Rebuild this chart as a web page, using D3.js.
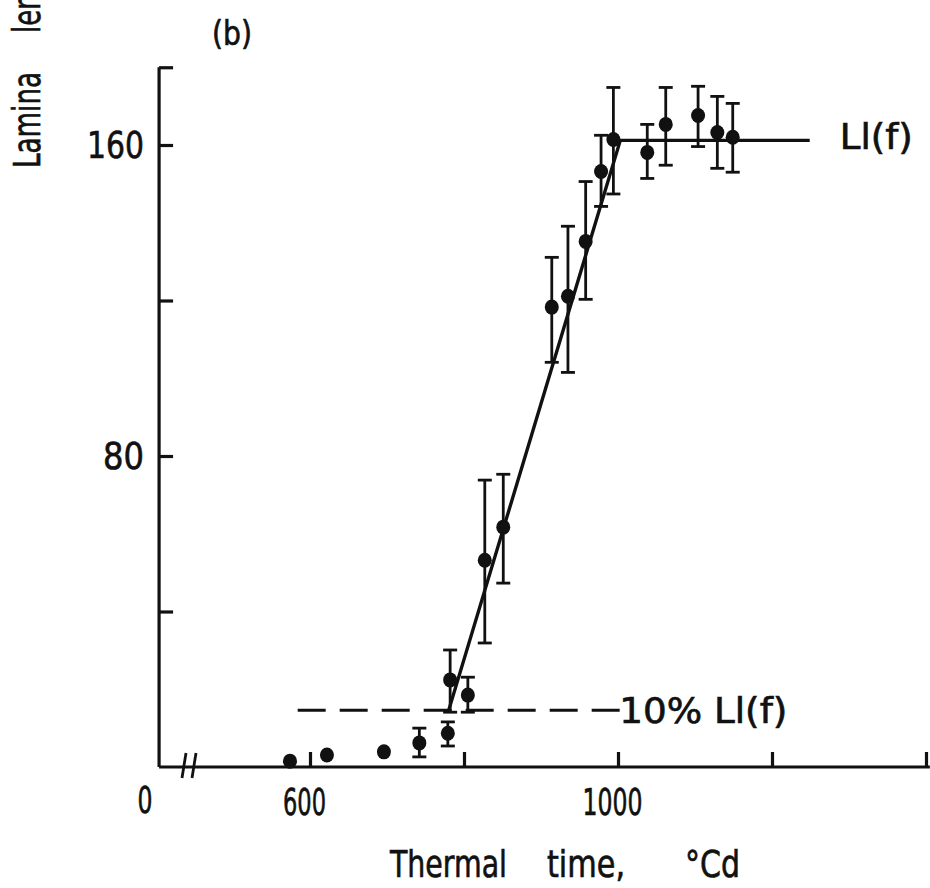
<!DOCTYPE html>
<html>
<head>
<meta charset="utf-8">
<script src="https://cdn.jsdelivr.net/npm/d3@7"></script>
<style>
  html, body { margin: 0; padding: 0; background: #fff; }
  svg { display: block; }
  text { font-family: "DejaVu Sans", "Liberation Sans", sans-serif; fill: #111; stroke: #111; stroke-width: 0.7px; }
</style>
</head>
<body>
<svg id="chart" width="930" height="888"></svg>
<script>
// ---- data ----
const thermalTime = [574, 622, 696, 742, 779, 782, 805, 827, 851, 914, 935, 958, 978, 994, 1038, 1062, 1104, 1129, 1149];
const laminaLength = [1.5, 3.1, 3.9, 6.2, 8.7, 22.4, 18.5, 53.2, 61.7, 118.3, 121.1, 135.2, 153.2, 161.4, 158.1, 165.3, 167.6, 163.2, 162.0];
const errUpper = [null, null, null, 10.0, 11.6, 30.1, 23.1, 73.8, 75.3, 131.1, 139.1, 150.6, 162.5, 174.8, 165.3, 174.8, 175.1, 172.5, 170.7];
const errLower = [null, null, null, 2.6, 5.4, 14.1, 14.1, 31.9, 47.3, 104.1, 101.5, 120.3, 144.2, 147.4, 151.4, 154.8, 159.6, 154.0, 153.0];

const fitX = [780, 1003, 1249];
const fitY = [14.5, 161.2, 161.2];
const tenPctX = [584, 1003];
const tenPctY = [14.6, 14.6];

const xTicks = [600, 800, 1000, 1200, 1400];
const xTickLabels = { 600: "600", 1000: "1000" };
const yTicks = [40, 80, 120, 160, 180];
const yTickLabels = { 80: "80", 160: "160" };

const xDomain = [404, 1405];
const yDomain = [0, 180];

// ---- drawing ----
const svg = d3.select("#chart");
const ink = "#111";

const x = d3.scaleLinear().domain([600, 1000]).range([310, 618]);
const y = d3.scaleLinear().domain([0, 160]).range([767, 145]);

// X axis
const xAxis = d3.axisBottom(x)
  .tickValues(xTicks)
  .tickSizeInner(-15)
  .tickSizeOuter(0)
  .tickPadding(21)
  .tickFormat(d => xTickLabels[d] || "");
const gx = svg.append("g").attr("transform", `translate(0,${y(0)})`).call(xAxis);
gx.select(".domain").attr("d", `M${x(xDomain[0])},0H${x(xDomain[1])}`);
gx.selectAll("path, line").attr("stroke", ink).attr("stroke-width", 3.2);
gx.selectAll("text")
  .attr("font-size", 38)
  .attr("dx", -6)
  .attr("fill", ink)
  .each(function(d) {
    const t = d3.select(this);
    if (d === 600) t.attr("textLength", 43).attr("lengthAdjust", "spacingAndGlyphs");
    if (d === 1000) t.attr("textLength", 60).attr("lengthAdjust", "spacingAndGlyphs");
  });

// axis break marks
const xb = x.invert(185);
svg.append("g").selectAll("path").data([0, 10]).join("path")
  .attr("d", d => `M${x(xb) + d - 3},${y(0) + 11}L${x(xb) + d + 1},${y(0) - 14}`)
  .attr("stroke", ink).attr("stroke-width", 2.8).attr("fill", "none");

// "0" label at the origin
svg.append("text")
  .attr("x", x(xDomain[0]) - 14).attr("y", y(0) + 46)
  .attr("text-anchor", "middle").attr("font-size", 38)
  .attr("textLength", 15).attr("lengthAdjust", "spacingAndGlyphs")
  .text("0");

// Y axis
const yAxis = d3.axisLeft(y)
  .tickValues(yTicks)
  .tickSizeInner(-14)
  .tickSizeOuter(0)
  .tickPadding(15)
  .tickFormat(d => yTickLabels[d] || "");
const gy = svg.append("g").attr("transform", `translate(${x(xDomain[0])},0)`).call(yAxis);
gy.select(".domain").attr("d", `M0,${y(yDomain[0])}V${y(yDomain[1])}`);
gy.selectAll("path, line").attr("stroke", ink).attr("stroke-width", 3.2);
gy.selectAll("text")
  .attr("font-size", 38)
  .attr("fill", ink)
  .each(function(d) {
    const t = d3.select(this);
    if (d === 160) t.attr("textLength", 57).attr("lengthAdjust", "spacingAndGlyphs");
    if (d === 80) t.attr("textLength", 41).attr("lengthAdjust", "spacingAndGlyphs");
  });

// Axis titles
const titleX = [
  { t: "Thermal", x0: 390, w: 117 },
  { t: "time,", x0: 547, w: 78 },
  { t: "°Cd", x0: 685, w: 55 }
];
svg.append("g").selectAll("text").data(titleX).join("text")
  .attr("x", d => d.x0).attr("y", 877)
  .attr("font-size", 38)
  .attr("textLength", d => d.w).attr("lengthAdjust", "spacingAndGlyphs")
  .text(d => d.t);

svg.append("text")
  .attr("transform", "translate(40,168) rotate(-90)")
  .attr("font-size", 37)
  .attr("textLength", 96).attr("lengthAdjust", "spacingAndGlyphs")
  .text("Lamina");
svg.append("text")
  .attr("transform", "translate(40,33) rotate(-90)")
  .attr("font-size", 37)
  .attr("textLength", 150).attr("lengthAdjust", "spacingAndGlyphs")
  .text("length, mm");

svg.append("text")
  .attr("x", 212).attr("y", 45)
  .attr("font-size", 34)
  .attr("textLength", 40).attr("lengthAdjust", "spacingAndGlyphs")
  .text("(b)");

// 10% dashed line
const line = d3.line().x(d => x(d[0])).y(d => y(d[1]));
svg.append("path")
  .attr("d", line(d3.zip(tenPctX, tenPctY)))
  .attr("stroke", ink).attr("stroke-width", 3.2)
  .attr("stroke-dasharray", "28,14").attr("fill", "none");

// fitted broken-stick line
svg.append("path")
  .attr("d", line(d3.zip(fitX, fitY)))
  .attr("stroke", ink).attr("stroke-width", 3.4).attr("fill", "none");

// line labels
svg.append("text")
  .attr("x", x(fitX[2]) + 30).attr("y", y(fitY[2]) + 9)
  .attr("font-size", 36)
  .attr("textLength", 73).attr("lengthAdjust", "spacingAndGlyphs")
  .text("Ll(f)");
svg.append("text")
  .attr("x", x(tenPctX[1]) - 1).attr("y", y(tenPctY[1]) + 13)
  .attr("font-size", 36)
  .attr("textLength", 168).attr("lengthAdjust", "spacingAndGlyphs")
  .text("10% Ll(f)");

// data points with error bars
const pts = thermalTime.map((t, i) => ({ t, v: laminaLength[i], hi: errUpper[i], lo: errLower[i] }));
const gp = svg.append("g");
const withErr = pts.filter(d => d.hi != null);
gp.selectAll("line.bar").data(withErr).join("line").attr("class", "bar")
  .attr("x1", d => x(d.t)).attr("x2", d => x(d.t))
  .attr("y1", d => y(d.hi)).attr("y2", d => y(d.lo))
  .attr("stroke", ink).attr("stroke-width", 2.8);
gp.selectAll("line.capHi").data(withErr).join("line").attr("class", "capHi")
  .attr("x1", d => x(d.t) - 7).attr("x2", d => x(d.t) + 7)
  .attr("y1", d => y(d.hi)).attr("y2", d => y(d.hi))
  .attr("stroke", ink).attr("stroke-width", 2.8);
gp.selectAll("line.capLo").data(withErr).join("line").attr("class", "capLo")
  .attr("x1", d => x(d.t) - 7).attr("x2", d => x(d.t) + 7)
  .attr("y1", d => y(d.lo)).attr("y2", d => y(d.lo))
  .attr("stroke", ink).attr("stroke-width", 2.8);
gp.selectAll("ellipse").data(pts).join("ellipse")
  .attr("cx", d => x(d.t)).attr("cy", d => y(d.v))
  .attr("rx", 7).attr("ry", 7.5)
  .attr("fill", ink);
</script>
</body>
</html>
